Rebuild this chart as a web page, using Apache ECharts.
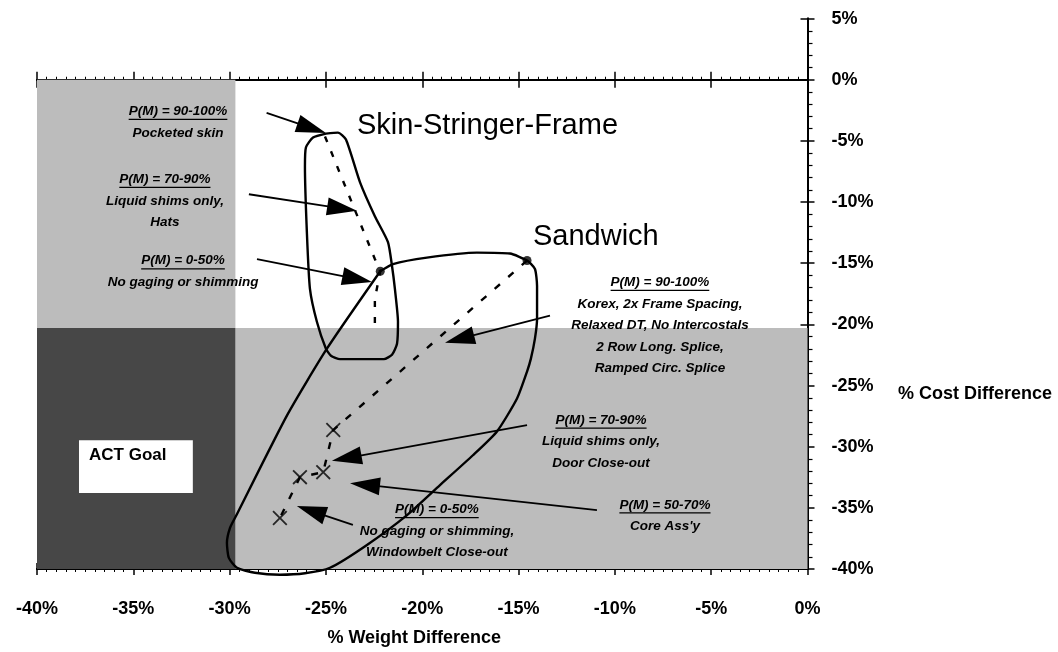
<!DOCTYPE html>
<html><head><meta charset="utf-8">
<script src="https://cdn.jsdelivr.net/npm/echarts@6/dist/echarts.min.js"></script>
<style>html,body{margin:0;padding:0;background:#fff}#chart{width:1058px;height:652px}</style>
</head><body><div id="chart"></div>
<script>
// ---------------- data ----------------
const weightMin = -40, weightMax = 0;
const costMin = -40, costMax = 5;

// shaded zones [x1, y1, x2, y2]
const lightZones = [[-40, 0, -29.7, -20.3], [-29.7, -20.3, 0, -40]];
const darkZones = [[-40, -20.3, -29.7, -40]];
const goalBox = [[-37.82, -29.48, -31.91, -33.79]];
const goalLabel = "ACT Goal";

// design family envelopes
const skinStringerFrameLoop = [[-25.00,-4.40],[-24.38,-4.32],[-23.96,-4.89],[-23.23,-8.39],[-22.46,-11.16],[-21.78,-13.27],[-21.57,-15.23],[-21.42,-17.10],[-21.26,-19.79],[-21.31,-21.58],[-21.57,-22.48],[-21.99,-22.84],[-24.27,-22.84],[-24.74,-22.56],[-25.00,-21.99],[-25.47,-19.79],[-25.83,-17.10],[-25.99,-12.46],[-26.09,-7.08],[-26.04,-5.54],[-25.67,-4.72],[-25.00,-4.40]];
const sandwichLoop = [[-22.18,-15.66],[-21.52,-15.07],[-19.76,-14.54],[-17.16,-14.13],[-15.45,-14.21],[-14.56,-14.78],[-14.15,-15.47],[-14.04,-16.86],[-14.04,-19.54],[-14.15,-21.17],[-14.36,-22.80],[-14.56,-23.86],[-15.08,-26.06],[-16.12,-28.75],[-17.37,-30.70],[-19.08,-33.14],[-20.79,-35.59],[-22.87,-38.03],[-24.79,-39.90],[-26.09,-40.35],[-27.39,-40.47],[-28.69,-40.31],[-29.62,-39.90],[-30.04,-39.09],[-30.14,-37.87],[-29.98,-36.64],[-29.67,-35.67],[-27.02,-27.44],[-24.95,-21.99],[-22.18,-15.66]];

// dashed progressions
const ssfPath = [[-25.05,-4.64],[-22.46,-14.66],[-22.18,-15.66],[-22.46,-17.92],[-22.46,-20.36]];
const sandwichPath = [[-14.56,-14.78],[-24.62,-28.64],[-25.14,-32.08],[-26.35,-32.49],[-27.39,-35.83]];

// markers
const stagePoints = [[-22.18,-15.66],[-14.56,-14.78]];
const processPoints = [[-24.62,-28.64],[-25.14,-32.08],[-26.35,-32.49],[-27.39,-35.83]];

// arrows [fromX, fromY, toX, toY]
const arrows = [
  [-28.08,-2.71,-25.00,-4.36],
  [-29.00,-9.36,-23.39,-10.72],
  [-28.58,-14.66,-22.61,-16.53],
  [-13.37,-19.28,-18.82,-21.50],
  [-14.56,-28.23,-24.69,-31.15],
  [-10.93,-35.18,-23.75,-32.98],
  [-23.60,-36.40,-26.51,-34.85]
];

// annotations
const noteAnchors = [[-32.68,-2.58],[-33.36,-8.14],[-32.42,-14.80],[-7.66,-16.56],[-10.72,-27.83],[-7.40,-34.75],[-19.24,-35.15]];
const noteTexts = [
  ["P(M) = 90-100%", "Pocketed skin"],
  ["P(M) = 70-90%", "Liquid shims only,", "Hats"],
  ["P(M) = 0-50%", "No gaging or shimming"],
  ["P(M) = 90-100%", "Korex, 2x Frame Spacing,", "Relaxed DT, No Intercostals", "2 Row Long. Splice,", "Ramped Circ. Splice"],
  ["P(M) = 70-90%", "Liquid shims only,", "Door Close-out"],
  ["P(M) = 50-70%", "Core Ass'y"],
  ["P(M) = 0-50%", "No gaging or shimming,", "Windowbelt Close-out"]
];
const familyLabels = ["Skin-Stringer-Frame", "Sandwich"];
const familyAnchors = [[-23.39,-3.80],[-14.25,-12.87]];

const xTitle = "% Weight Difference";
const yTitle = "% Cost Difference";

// ---------------- chart ----------------
const FONT = '"Liberation Sans", Arial, Helvetica, sans-serif';
const noteFontSize = 13.5, noteGap = 21.5;
const measureCtx = document.createElement('canvas').getContext('2d');
function textWidth(t, font) { measureCtx.font = font; return measureCtx.measureText(t).width; }

const chart = echarts.init(document.getElementById('chart'), null, {renderer: 'canvas'});
const pct = v => v + '%';

function rectSeries(data, color, z) {
  return {
    type: 'custom', xAxisIndex: 0, yAxisIndex: 0, z: z, silent: true,
    encode: {x: [0, 2], y: [1, 3]},
    data: data,
    renderItem(params, api) {
      const a = api.coord([api.value(0), api.value(1)]);
      const b = api.coord([api.value(2), api.value(3)]);
      return {type: 'rect', shape: {x: Math.min(a[0], b[0]), y: Math.min(a[1], b[1]), width: Math.abs(b[0] - a[0]), height: Math.abs(b[1] - a[1])}, style: {fill: color}};
    }
  };
}

const baseX = {type: 'value', min: weightMin, max: weightMax, interval: 5, splitLine: {show: false}};
const axisLineStyle = {color: '#000', width: 2};

const option = {
  animation: false,
  backgroundColor: '#fff',
  grid: {left: 37, right: 250.5, top: 18.6, bottom: 81, containLabel: false},
  xAxis: [
    Object.assign({}, baseX, {
      position: 'bottom',
      axisLine: {onZero: false, lineStyle: axisLineStyle},
      axisTick: {show: true, inside: false, length: 6, lineStyle: {color: '#000', width: 1.5}},
      minorTick: {show: true, splitNumber: 10, length: 3, lineStyle: {color: '#000', width: 1}},
      axisLabel: {formatter: pct, color: '#000', fontFamily: FONT, fontWeight: 'bold', fontSize: 18, margin: 31},
      name: xTitle, nameLocation: 'middle', nameGap: 60,
      nameTextStyle: {color: '#000', fontFamily: FONT, fontWeight: 'bold', fontSize: 18, padding: [0, 16, 0, 0]}
    }),
    Object.assign({}, baseX, {
      position: 'bottom',
      axisLine: {onZero: false, lineStyle: axisLineStyle},
      axisTick: {show: true, inside: true, length: 6, lineStyle: {color: '#000', width: 1.5}},
      minorTick: {show: false},
      axisLabel: {show: false}
    }),
    Object.assign({}, baseX, {
      position: 'bottom',
      axisLine: {onZero: true, onZeroAxisIndex: 0, lineStyle: axisLineStyle},
      axisTick: {show: true, inside: true, length: 8, lineStyle: {color: '#000', width: 1.5}},
      minorTick: {show: true, splitNumber: 10, length: 3, lineStyle: {color: '#000', width: 1}},
      axisLabel: {show: false}
    }),
    Object.assign({}, baseX, {
      position: 'bottom',
      axisLine: {onZero: true, onZeroAxisIndex: 0, lineStyle: axisLineStyle},
      axisTick: {show: true, inside: false, length: 8, lineStyle: {color: '#000', width: 1.5}},
      minorTick: {show: false},
      axisLabel: {show: false}
    })
  ],
  yAxis: [
    {
      type: 'value', min: costMin, max: costMax, interval: 5, position: 'right',
      axisLine: {onZero: false, lineStyle: axisLineStyle},
      axisTick: {show: true, inside: false, length: 7, lineStyle: {color: '#000', width: 1.5}},
      minorTick: {show: true, splitNumber: 5, length: 5, lineStyle: {color: '#000', width: 1.2}},
      axisLabel: {formatter: pct, color: '#000', fontFamily: FONT, fontWeight: 'bold', fontSize: 18, margin: 24},
      splitLine: {show: false}
    },
    {
      type: 'value', min: costMin, max: costMax, interval: 5, position: 'right',
      axisLine: {onZero: false, lineStyle: axisLineStyle},
      axisTick: {show: true, inside: true, length: 7, lineStyle: {color: '#000', width: 1.5}},
      minorTick: {show: false},
      axisLabel: {show: false},
      splitLine: {show: false}
    }
  ],
  graphic: [{
    type: 'text', right: 6, top: 385, silent: true,
    style: {text: yTitle, font: 'bold 18px ' + FONT, fill: '#000'}
  }],
  series: [
    rectSeries(lightZones, '#bcbcbc', 1),
    rectSeries(darkZones, '#474747', 1),
    rectSeries(goalBox, '#ffffff', 2),
    {
      type: 'custom', xAxisIndex: 0, yAxisIndex: 0, z: 6, silent: true,
      encode: {x: 0, y: 1},
      data: goalBox.map(b => [b[0], b[1]]),
      renderItem(params, api) {
        const p = api.coord([api.value(0), api.value(1)]);
        return {type: 'text', style: {text: goalLabel, x: p[0] + 10, y: p[1] + 15, font: 'bold 17px ' + FONT, fill: '#000', align: 'left', verticalAlign: 'middle'}};
      }
    },
    {
      name: 'Skin-Stringer-Frame', type: 'line', xAxisIndex: 0, yAxisIndex: 0, z: 4,
      data: skinStringerFrameLoop, symbol: 'none', smooth: 0.2, clip: false,
      lineStyle: {color: '#000', width: 2.4}
    },
    {
      name: 'Sandwich', type: 'line', xAxisIndex: 0, yAxisIndex: 0, z: 4,
      data: sandwichLoop, symbol: 'none', smooth: 0.2, clip: false,
      lineStyle: {color: '#000', width: 2.4}
    },
    {
      type: 'line', xAxisIndex: 0, yAxisIndex: 0, z: 4, data: ssfPath, symbol: 'none', clip: false,
      lineStyle: {color: '#000', width: 2.4, type: [6, 10]}
    },
    {
      type: 'line', xAxisIndex: 0, yAxisIndex: 0, z: 4, data: sandwichPath, symbol: 'none', clip: false,
      lineStyle: {color: '#000', width: 2.4, type: [7, 11]}
    },
    {
      type: 'scatter', xAxisIndex: 0, yAxisIndex: 0, z: 5, data: stagePoints,
      symbol: 'circle', symbolSize: 9, itemStyle: {color: '#000'}
    },
    {
      type: 'scatter', xAxisIndex: 0, yAxisIndex: 0, z: 5, data: processPoints,
      symbol: 'path://M0,1.2L1.2,0L7,5.8L12.8,0L14,1.2L8.2,7L14,12.8L12.8,14L7,8.2L1.2,14L0,12.8L5.8,7Z',
      symbolSize: 15, itemStyle: {color: '#000'}
    },
    {
      type: 'custom', xAxisIndex: 0, yAxisIndex: 0, z: 6, silent: true,
      encode: {x: [0, 2], y: [1, 3]},
      data: arrows,
      renderItem(params, api) {
        const s = api.coord([api.value(0), api.value(1)]);
        const e = api.coord([api.value(2), api.value(3)]);
        const dx = e[0] - s[0], dy = e[1] - s[1];
        const len = Math.hypot(dx, dy);
        const ux = dx / len, uy = dy / len;
        const L = 30, W = 9;
        const bx = e[0] - ux * L, by = e[1] - uy * L;
        return {type: 'group', children: [
          {type: 'line', shape: {x1: s[0], y1: s[1], x2: bx + ux * 4, y2: by + uy * 4}, style: {stroke: '#000', lineWidth: 1.8}},
          {type: 'polygon', shape: {points: [[e[0], e[1]], [bx - uy * W, by + ux * W], [bx + uy * W, by - ux * W]]}, style: {fill: '#000'}}
        ]};
      }
    },
    {
      type: 'custom', xAxisIndex: 0, yAxisIndex: 0, z: 7, silent: true,
      encode: {x: 0, y: 1},
      data: noteAnchors.map((a, i) => [a[0], a[1], i]),
      renderItem(params, api) {
        const i = api.value(2);
        const p = api.coord([api.value(0), api.value(1)]);
        const font = 'italic bold ' + noteFontSize + 'px ' + FONT;
        const children = [];
        noteTexts[i].forEach((t, k) => {
          const y = p[1] + k * noteGap;
          children.push({type: 'text', style: {text: t, x: p[0], y: y, font: font, fill: '#000', align: 'center', verticalAlign: 'middle'}});
          if (k === 0) {
            const w = textWidth(t, font);
            children.push({type: 'line', shape: {x1: p[0] - w / 2, y1: y + 8, x2: p[0] + w / 2, y2: y + 8}, style: {stroke: '#000', lineWidth: 1.3}});
          }
        });
        return {type: 'group', children: children};
      }
    },
    {
      type: 'custom', xAxisIndex: 0, yAxisIndex: 0, z: 7, silent: true,
      encode: {x: 0, y: 1},
      data: familyAnchors.map((a, i) => [a[0], a[1], i]),
      renderItem(params, api) {
        const p = api.coord([api.value(0), api.value(1)]);
        return {type: 'text', style: {text: familyLabels[api.value(2)], x: p[0], y: p[1], font: '29px ' + FONT, fill: '#000', align: 'left', verticalAlign: 'middle'}};
      }
    }
  ]
};
chart.setOption(option);
</script>
</body></html>
